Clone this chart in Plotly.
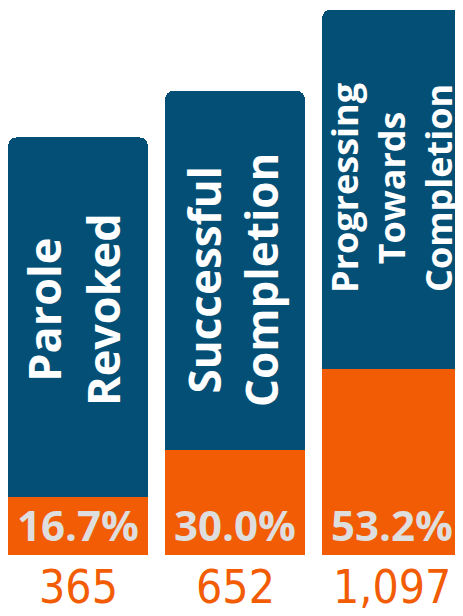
import plotly.graph_objects as go

categories = ["Parole<br>Revoked", "Successful<br>Completion", "Progressing<br>Towards<br>Completion"]
percents = [16.7, 30.0, 53.2]
pct_labels = ["16.7%", "30.0%", "53.2%"]
counts = [365, 652, 1097]
count_labels = ["365", "652", "1,097"]
blue_part = [102.6, 102.6, 102.6]

BLUE = "#034f76"
ORANGE = "#f25c05"

x = list(range(len(categories)))

fig = go.Figure()
fig.add_trace(go.Bar(x=x, y=percents, marker=dict(color=ORANGE, line=dict(width=0)),
                     width=0.89, hoverinfo="skip"))
fig.add_trace(go.Bar(x=x, y=blue_part, marker=dict(color=BLUE, line=dict(width=0)),
                     width=0.89, hoverinfo="skip"))

label_sizes = [45, 44, 36]
label_offsets = [53.3, 48.6, 51.7]
label_xshift = [-5, -2, 0]
annotations = []
for i in x:
    annotations.append(dict(x=i, y=percents[i] + label_offsets[i], xref="x", yref="y",
                            text=categories[i], textangle=-90, showarrow=False, xshift=label_xshift[i],
                            font=dict(family="Open Sans", size=label_sizes[i], color="white", weight="bold"),
                            xanchor="center", yanchor="middle"))
    annotations.append(dict(x=i, y=8.6, xref="x", yref="y", text=pct_labels[i], showarrow=False,
                            font=dict(family="Open Sans", size=42, color="#dedede", weight="bold"),
                            xanchor="center", yanchor="middle"))
    annotations.append(dict(x=i, y=-0.0585, xref="x", yref="paper", text=count_labels[i], showarrow=False,
                            font=dict(family="Liberation Sans Narrow, DejaVu Sans Condensed, Roboto, sans-serif",
                                      size=46, color=ORANGE),
                            xanchor="center", yanchor="middle"))

fig.update_layout(
    width=455, height=608,
    margin=dict(l=0, r=0, t=0, b=61),
    barmode="stack", barcornerradius=8,
    showlegend=False,
    paper_bgcolor="white", plot_bgcolor="white",
    xaxis=dict(range=[-0.446, 2.452], visible=False, fixedrange=True),
    yaxis=dict(range=[0, 156.3], visible=False, fixedrange=True),
    annotations=annotations,
)

fig.write_html("out.html", config={"displayModeBar": False})
